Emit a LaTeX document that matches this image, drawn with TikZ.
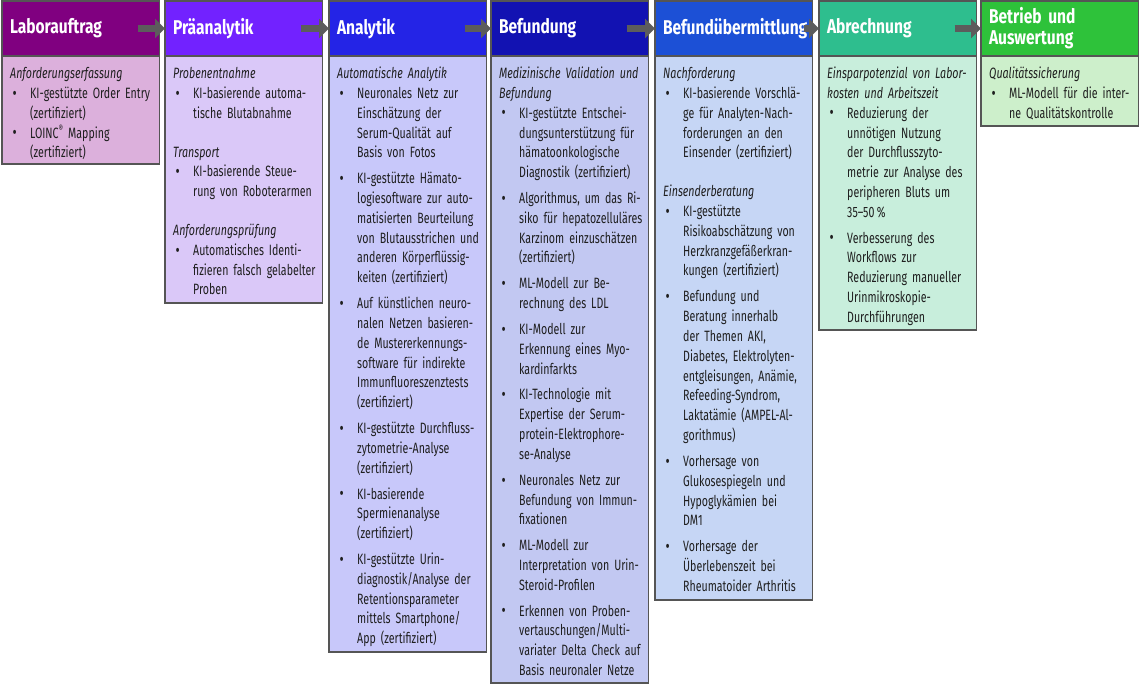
\documentclass[tikz,border=0pt]{standalone}
\usepackage{fontspec}
\setmainfont{Fira Sans}[FakeStretch=0.71, BoldFeatures={FakeStretch=0.78}, ItalicFeatures={FakeStretch=0.715}]
\usetikzlibrary{positioning,arrows.meta}

% Colours of the seven steps (head / body)
\definecolor{boxline}{RGB}{85,85,85}
\definecolor{arrowgray}{RGB}{92,92,92}
\definecolor{auftragHead}{RGB}{128,0,128}
\definecolor{auftragBody}{RGB}{220,176,220}
\definecolor{praeHead}{RGB}{114,34,255}
\definecolor{praeBody}{RGB}{218,200,248}
\definecolor{analytikHead}{RGB}{36,36,230}
\definecolor{analytikBody}{RGB}{200,200,250}
\definecolor{befundHead}{RGB}{18,18,178}
\definecolor{befundBody}{RGB}{194,200,242}
\definecolor{uebermHead}{RGB}{28,80,214}
\definecolor{uebermBody}{RGB}{198,214,245}
\definecolor{abrechHead}{RGB}{46,190,142}
\definecolor{abrechBody}{RGB}{200,238,220}
\definecolor{betriebHead}{RGB}{46,194,58}
\definecolor{betriebBody}{RGB}{205,239,203}

% Text helpers
\newcommand{\bodyfont}{\fontsize{15}{19.9}\selectfont\parskip=0pt\parindent=0pt\hyphenpenalty=10000\relax}
\newcommand{\nl}{\hfil\break}
\newcommand{\sect}[1]{\par\noindent\strut\textit{#1}\strut\par}
\newcommand{\itm}[1]{\par\noindent\hangindent=20bp\hangafter=1\strut\makebox[20bp][l]{\hspace{2.5bp}\raisebox{-0.8bp}{\fontsize{18}{18}\selectfont\textbullet}}#1\strut\par}
\newcommand{\itmgap}{\vspace{6bp}}
\newcommand{\sectgap}{\vspace{19bp}}
\newcommand{\regd}{\raisebox{0.38em}{\fontsize{10}{10}\selectfont ®}}

\begin{document}
\begin{tikzpicture}[x=1bp, y=-1bp,
    head/.style={draw=boxline, line width=1.5bp, anchor=north west, outer sep=0pt,
        minimum width=157.5bp, minimum height=55bp, inner xsep=8bp, inner ysep=0pt,
        text width=141.5bp, align=left, text=white, font=\fontsize{20}{21}\selectfont\bfseries},
    body/.style={draw=boxline, line width=1.5bp, outer sep=0pt, minimum width=157.5bp, inner sep=0pt},
    txt/.style={anchor=north west, inner sep=0pt, text width=150bp, text=black!88, font=\bodyfont},
    flow/.style={draw=arrowgray, line width=7bp, -{Triangle[length=10bp,width=19bp]}}]

    \useasboundingbox[fill=white] (0,0) rectangle (1140,685);

    % Heads
    \node[head, fill=auftragHead] (hAuftrag) at (2,1) {Laborauftrag};
    \node[head, fill=praeHead] (hPrae) at (165,1) {Präanalytik};
    \node[head, fill=analytikHead] (hAnalytik) at (329,1) {Analytik};
    \node[head, fill=befundHead] (hBefund) at (491,1) {Befundung};
    \node[head, fill=uebermHead] (hUeberm) at (655,1) {Befundübermittlung};
    \node[head, fill=abrechHead] (hAbrech) at (819,1) {Abrechnung};
    \node[head, fill=betriebHead] (hBetrieb) at (981,1) {Betrieb und\\Auswertung};

    % Bodies
    \node[body, fill=auftragBody, minimum height=108bp, below=0pt of hAuftrag] (bAuftrag) {};
    \node[body, fill=praeBody, minimum height=247bp, below=0pt of hPrae] (bPrae) {};
    \node[body, fill=analytikBody, minimum height=596bp, below=0pt of hAnalytik] (bAnalytik) {};
    \node[body, fill=befundBody, minimum height=627bp, below=0pt of hBefund] (bBefund) {};
    \node[body, fill=uebermBody, minimum height=544bp, below=0pt of hUeberm] (bUeberm) {};
    \node[body, fill=abrechBody, minimum height=274bp, below=0pt of hAbrech] (bAbrech) {};
    \node[body, fill=betriebBody, minimum height=70bp, below=0pt of hBetrieb] (bBetrieb) {};

    % Texts
    \node[txt] (tAuftrag) at ([shift={(8,2.5)}]bAuftrag.north west) {%
        \sect{Anforderungserfassung}
        \itm{KI-gestützte Order Entry\nl(zertifiziert)}
        \itm{LOINC\regd{} Mapping\nl(zertifiziert)}};

    \node[txt] (tPrae) at ([shift={(8,2.5)}]bPrae.north west) {%
        \sect{Probenentnahme}
        \itm{KI-basierende automa-\nl tische Blutabnahme}
        \sectgap
        \sect{Transport}
        \itm{KI-basierende Steue-\nl rung von Roboterarmen}
        \sectgap
        \sect{Anforderungsprüfung}
        \itm{Automatisches Identi-\nl fizieren falsch gelabelter\nl Proben}};

    \node[txt] (tAnalytik) at ([shift={(8,2.5)}]bAnalytik.north west) {%
        \sect{Automatische Analytik}
        \itm{Neuronales Netz zur\nl Einschätzung der\nl Serum-Qualität auf\nl Basis von Fotos}
        \itmgap
        \itm{KI-gestützte Hämato-\nl logiesoftware zur auto-\nl matisierten Beurteilung\nl von Blutausstrichen und\nl anderen Körperflüssig-\nl keiten (zertifiziert)}
        \itmgap
        \itm{Auf künstlichen neuro-\nl nalen Netzen basieren-\nl de Mustererkennungs-\nl software für indirekte\nl Immunfluoreszenztests\nl (zertifiziert)}
        \itmgap
        \itm{KI-gestützte Durchfluss-\nl zytometrie-Analyse\nl (zertifiziert)}
        \itmgap
        \itm{KI-basierende\nl Spermienanalyse\nl (zertifiziert)}
        \itmgap
        \itm{KI-gestützte Urin-\nl diagnostik/Analyse der\nl Retentionsparameter\nl mittels Smartphone/\nl App (zertifiziert)}};

    \node[txt] (tBefund) at ([shift={(8,2.5)}]bBefund.north west) {%
        \sect{Medizinische Validation und\nl Befundung}
        \itm{KI-gestützte Entschei-\nl dungsunterstützung für\nl hämatoonkologische\nl Diagnostik (zertifiziert)}
        \itmgap
        \itm{Algorithmus, um das Ri-\nl siko für hepatozelluläres\nl Karzinom einzuschätzen\nl (zertifiziert)}
        \itmgap
        \itm{ML-Modell zur Be-\nl rechnung des LDL}
        \itmgap
        \itm{KI-Modell zur\nl Erkennung eines Myo-\nl kardinfarkts}
        \itmgap
        \itm{KI-Technologie mit\nl Expertise der Serum-\nl protein-Elektrophore-\nl se-Analyse}
        \itmgap
        \itm{Neuronales Netz zur\nl Befundung von Immun-\nl fixationen}
        \itmgap
        \itm{ML-Modell zur\nl Interpretation von Urin-\nl Steroid-Profilen}
        \itmgap
        \itm{Erkennen von Proben-\nl vertauschungen/Multi-\nl variater Delta Check auf\nl Basis neuronaler Netze}};

    \node[txt] (tUeberm) at ([shift={(8,2.5)}]bUeberm.north west) {%
        \sect{Nachforderung}
        \itm{KI-basierende Vorschlä-\nl ge für Analyten-Nach-\nl forderungen an den\nl Einsender (zertifiziert)}
        \sectgap
        \sect{Einsenderberatung}
        \itm{KI-gestützte\nl Risikoabschätzung von\nl Herzkranzgefäßerkran-\nl kungen (zertifiziert)}
        \itmgap
        \itm{Befundung und\nl Beratung innerhalb\nl der Themen AKI,\nl Diabetes, Elektrolyten-\nl entgleisungen, Anämie,\nl Refeeding-Syndrom,\nl Laktatämie (AMPEL-Al-\nl gorithmus)}
        \itmgap
        \itm{Vorhersage von\nl Glukosespiegeln und\nl Hypoglykämien bei\nl DM1}
        \itmgap
        \itm{Vorhersage der\nl Überlebenszeit bei\nl Rheumatoider Arthritis}};

    \node[txt] (tAbrech) at ([shift={(8,2.5)}]bAbrech.north west) {%
        \sect{Einsparpotenzial von Labor-\nl kosten und Arbeitszeit}
        \itm{Reduzierung der\nl unnötigen Nutzung\nl der Durchflusszyto-\nl metrie zur Analyse des\nl peripheren Bluts um\nl 35–50\,\%}
        \itmgap
        \itm{Verbesserung des\nl Workflows zur\nl Reduzierung manueller\nl Urinmikroskopie-\nl Durchführungen}};

    \node[txt] (tBetrieb) at ([shift={(8,2.5)}]bBetrieb.north west) {%
        \sect{Qualitätssicherung}
        \itm{ML-Modell für die inter-\nl ne Qualitätskontrolle}};

    % Flow arrows between the heads
    \draw[flow] ([xshift=-22bp]hAuftrag.east) -- (hPrae.west);
    \draw[flow] ([xshift=-22bp]hPrae.east) -- (hAnalytik.west);
    \draw[flow] ([xshift=-22bp]hAnalytik.east) -- (hBefund.west);
    \draw[flow] ([xshift=-22bp]hBefund.east) -- (hUeberm.west);
    \draw[flow] ([xshift=-9bp]hUeberm.east) -- (hAbrech.west);
    \draw[flow] ([xshift=-22bp]hAbrech.east) -- (hBetrieb.west);

\end{tikzpicture}
\end{document}
